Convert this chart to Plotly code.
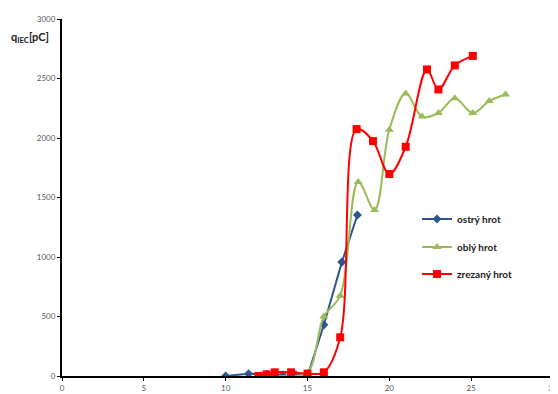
import plotly.graph_objects as go

# ostrý hrot
x_ostry = [10, 11.4, 12.5, 13.5, 14.3, 15, 16, 17.1, 18.05]
y_ostry = [0, 19, 15, 10, 8, 0, 430, 957, 1353]

# oblý hrot
x_obly = [13, 13.8, 15, 16, 17, 18.1, 19.1, 20, 21, 22, 23, 24, 25.1, 26.1, 27.1]
y_obly = [0, 0, 30, 500, 675, 1630, 1395, 2070, 2375, 2180, 2210, 2335, 2210, 2310, 2365]

# zrezaný hrot
x_zrez = [12, 12.5, 13, 14, 15, 16, 17, 18, 19, 20, 21, 22.3, 23, 24, 25.1]
y_zrez = [0, 14, 31, 31, 20, 31, 325, 2075, 1974, 1697, 1926, 2576, 2408, 2610, 2690]

x_ticks = [0, 5, 10, 15, 20, 25, 30]
y_ticks = [0, 500, 1000, 1500, 2000, 2500, 3000]

FONT = "Lato"

fig = go.Figure()
fig.add_trace(go.Scatter(
    x=x_ostry, y=y_ostry, name="<b>ostrý hrot</b>", mode="lines+markers",
    line=dict(color="#2F5590", width=2),
    marker=dict(symbol="diamond", size=7, color="#2F5590"),
    legend="legend", showlegend=True))
fig.add_trace(go.Scatter(
    x=x_obly, y=y_obly, name="<b>oblý hrot</b>", mode="lines+markers",
    line=dict(color="#9BBB59", width=2, shape="spline", smoothing=1),
    marker=dict(symbol="triangle-up", size=8, color="#9BBB59"),
    legend="legend2", showlegend=True))
fig.add_trace(go.Scatter(
    x=x_zrez, y=y_zrez, name="<b>zrezaný hrot</b>", mode="lines+markers",
    line=dict(color="#FF0000", width=2, shape="spline", smoothing=1),
    marker=dict(symbol="square", size=8, color="#FF0000"),
    legend="legend3", showlegend=True))

# page body has an 8px margin, so the figure is sized/offset accordingly
PH = 357
def ly(py):
    return (376 - py) / PH

leg_common = dict(font=dict(family=FONT, size=10, color="#222222"),
                  bgcolor="rgba(0,0,0,0)", xanchor="left", yanchor="middle",
                  itemwidth=30, visible=True)
fig.update_layout(
    template="none",
    showlegend=True,
    width=550, height=386,
    margin=dict(l=54, r=5, t=11, b=18, autoexpand=False),
    paper_bgcolor="white", plot_bgcolor="white",
    font=dict(family=FONT, size=8, color="#595959"),
    xaxis=dict(range=[0, 30], tickvals=x_ticks, showgrid=False, zeroline=False,
               showline=True, linecolor="black", linewidth=2, automargin=False,
               ticks="outside", ticklen=3, tickcolor="black", tickwidth=1,
               ticklabeloverflow="allow",
               tickfont=dict(family=FONT, size=8, color="#595959")),
    yaxis=dict(range=[0, 3000], tickvals=y_ticks, showgrid=False, zeroline=False,
               showline=True, linecolor="black", linewidth=2, automargin=False,
               ticks="outside", ticklen=3, tickcolor="black", tickwidth=1,
               ticklabeloverflow="allow",
               tickfont=dict(family=FONT, size=8, color="#595959")),
    legend=dict(x=0.723, y=ly(219), **leg_common),
    legend2=dict(x=0.723, y=ly(247), **leg_common),
    legend3=dict(x=0.723, y=ly(274), **leg_common),
    annotations=[
        dict(text="<b>q<sub>IEC</sub>[pC]</b>", xref="paper", yref="paper",
             x=-0.108, y=ly(37), xanchor="left", yanchor="middle", showarrow=False,
             font=dict(family=FONT, size=11, color="#222222")),
        dict(text="<b>U[kV]</b>", xref="paper", yref="paper",
             x=0.935, y=ly(389), xanchor="left", yanchor="top", showarrow=False,
             font=dict(family=FONT, size=10, color="#222222")),
    ],
)

fig.write_html("out.html")
